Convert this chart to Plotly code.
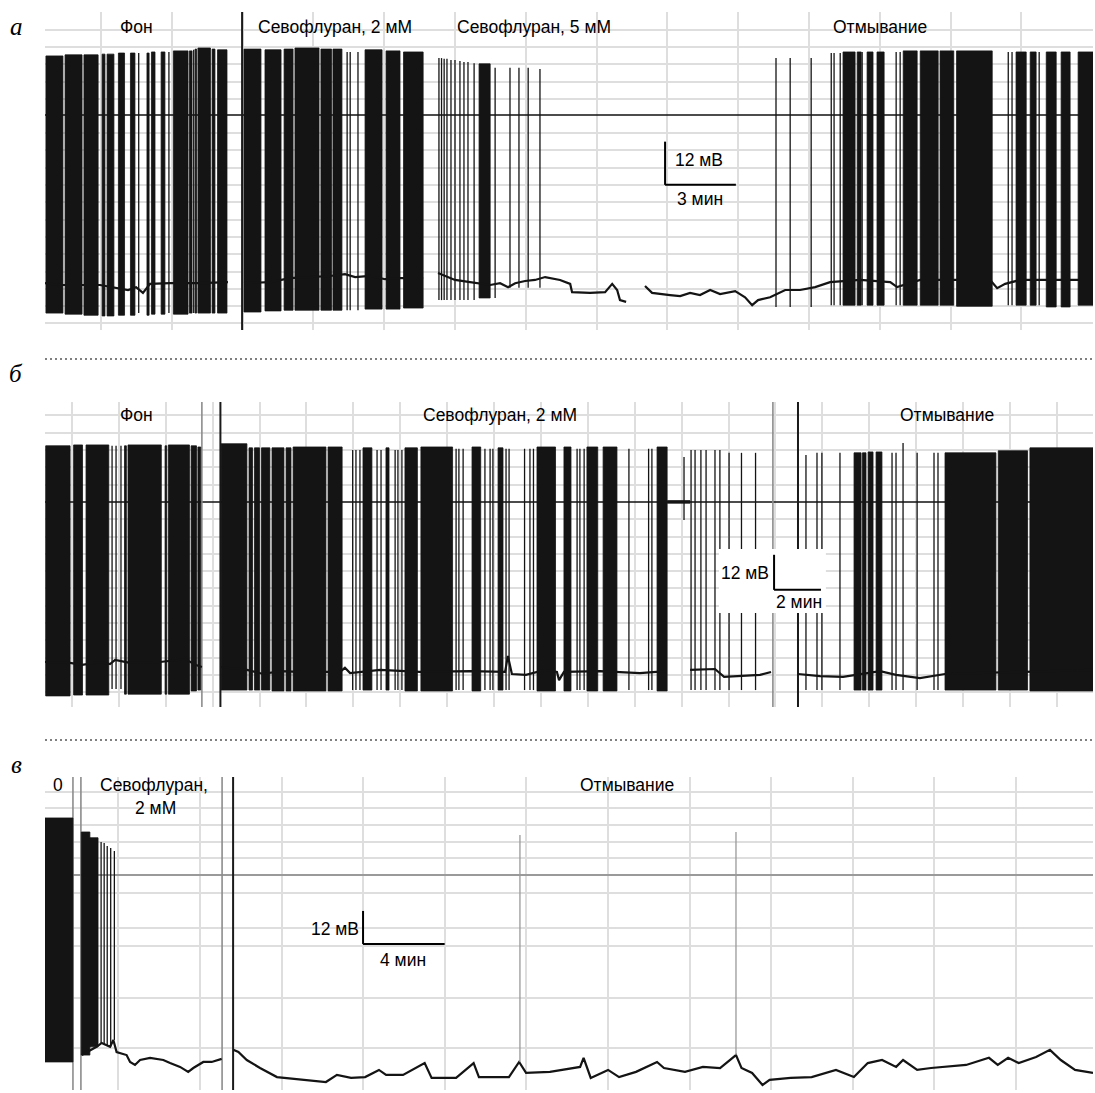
import plotly.graph_objects as go

W, H = 1095, 1093

# ------------------------------------------------------------------ panel а
a_burst_start = [0.04, 0.85, 1.65, 2.42, 2.63, 3.11, 3.62, 4.32, 4.51, 4.92, 5.44, 6.12, 6.36, 6.48, 7.08, 7.31,
                 8.43, 9.32, 10.13, 10.59, 11.69, 12.20, 13.56, 14.45, 15.19,
                 18.39,
                 33.81, 34.41, 34.83, 35.25, 36.36, 37.08, 37.92, 38.62, 41.14, 41.74, 42.42, 43.05, 43.77]
a_burst_end = [0.76, 1.57, 2.25, 2.54, 2.92, 3.37, 3.81, 4.41, 4.66, 5.08, 6.06, 6.23, 6.42, 7.01, 7.20, 7.71,
               9.15, 10.00, 10.51, 11.61, 12.14, 12.58, 14.28, 15.04, 16.02,
               18.86,
               34.32, 34.58, 35.08, 35.55, 36.95, 37.84, 38.50, 40.13, 41.57, 41.99, 42.84, 43.43, 44.40]
a_burst_top = [16.4, 16.7, 16.7, 16.9, 16.9, 17.2, 17.2, 17.2, 17.5, 17.5, 17.8, 17.8, 18.3, 18.6, 18.3, 18.1,
               18.3, 18.1, 18.3, 18.6, 18.3, 18.3, 18.1, 17.8, 17.5,
               14.2,
               17.5, 17.5, 17.5, 17.5, 17.8, 17.8, 17.8, 17.8, 17.5, 17.5, 17.5, 17.5, 17.5]
a_burst_bottom = [-55.0, -55.3, -55.6, -55.8, -55.8, -55.6, -55.6, -55.6, -55.3, -55.3, -55.3, -55.0, -55.0, -55.0, -55.0, -55.0,
                  -54.7, -54.4, -54.2, -54.2, -54.2, -54.2, -53.9, -53.9, -53.6,
                  -50.8,
                  -52.8, -52.8, -52.8, -52.8, -52.8, -52.8, -52.8, -53.1, -52.8, -52.8, -53.3, -53.3, -52.8]

a_spike_t = [3.97, 5.25, 6.30, 12.80, 12.93, 13.26,
             16.69, 16.80, 16.91, 17.03, 17.20, 17.37, 17.58, 17.75, 17.92, 18.18, 19.07, 19.70, 20.08, 20.47, 20.97,
             30.97, 31.57, 32.46, 33.31, 33.43, 33.69, 34.62, 36.06, 36.23, 40.81, 40.97, 42.12]
a_spike_top = [17.2, 17.5, 18.1, 17.5, 17.5, 17.5,
               15.8, 15.8, 15.6, 15.6, 15.3, 15.3, 15.0, 14.7, 14.7, 14.4, 13.1, 13.1, 13.1, 13.1, 12.8,
               15.8, 15.8, 15.8, 17.2, 17.2, 17.2, 17.5, 17.5, 17.5, 17.5, 17.5, 17.5]
a_spike_bottom = [-55.0, -55.0, -55.0, -54.2, -54.2, -54.2,
                  -51.4, -51.4, -51.4, -51.4, -51.4, -51.4, -51.4, -51.4, -51.4, -51.4, -50.8, -48.0, -48.0, -48.0, -48.0,
                  -53.3, -53.3, -53.3, -52.8, -52.8, -52.8, -52.8, -52.8, -52.8, -52.8, -52.8, -52.8]

a_base_t = [0.0, 0.64, 2.33, 3.52, 3.86, 4.15, 4.45, 5.30, 6.57, 7.75, None,
            8.43, 9.53, 10.38, 11.23, 12.08, 12.71, 13.14, 13.77, 14.41, 15.04, 16.02, None,
            16.65, 16.95, 17.37, 18.01, 18.86, 19.28, 19.62, 19.92, 20.34, 20.76, 21.19, 21.82, 22.25, 22.33,
            23.09, 23.73, 24.03, 24.24, 24.36, 24.62, None,
            25.42, 25.72, 26.48, 26.91, 27.33, 27.75, 28.18, 28.60, 29.24, 29.66, 29.96, 30.21, 30.72, 31.36,
            31.99, 32.63, 33.26, 34.53, 35.81, 36.10, 37.08, 40.04, 40.34, 40.68, 41.31, 44.40]
a_base_v = [-46.7, -47.2, -47.2, -48.6, -47.8, -49.4, -46.9, -46.7, -46.7, -46.4, None,
            -46.7, -46.4, -45.3, -45.0, -44.7, -44.2, -45.0, -44.7, -45.6, -45.3, -45.3, None,
            -43.9, -44.7, -45.8, -46.4, -47.2, -46.7, -47.8, -46.7, -46.1, -45.8, -45.0, -45.8, -46.9, -49.2,
            -49.4, -49.2, -46.9, -48.6, -51.4, -51.9, None,
            -47.5, -49.4, -50.0, -50.3, -49.4, -50.0, -48.6, -49.7, -48.9, -50.6, -52.8, -51.4, -50.6, -48.6,
            -48.6, -47.8, -46.4, -45.8, -46.4, -47.8, -45.8, -45.8, -48.1, -46.9, -45.8, -45.8]

a_marker_t = [8.35]
a_duration = 44.4

# ------------------------------------------------------------------ panel б
b_burst_start = [0.03, 1.22, 1.75, 3.39, 3.54, 5.12, 5.26, 6.23, 6.52,
                 7.51, 8.70, 8.93, 9.23, 9.68, 10.28, 10.58, 12.07, 13.56, 14.54, 15.35, 16.03, 18.21, 19.32,
                 20.98, 22.13, 23.11, 23.80, 26.10,
                 34.50, 34.86, 35.10, 35.44, 38.38, 40.65, 42.00]
b_burst_end = [1.07, 1.60, 2.72, 3.47, 4.96, 5.19, 6.16, 6.46, 6.64,
               8.61, 8.85, 9.15, 9.59, 10.19, 10.49, 11.98, 12.67, 13.94, 14.67, 15.88, 17.38, 18.58, 19.53,
               21.77, 22.43, 23.57, 24.39, 26.53,
               34.80, 35.01, 35.31, 35.69, 40.55, 41.90, 44.69]
b_burst_top = [19.2, 19.5, 19.5, 19.2, 19.5, 19.2, 19.5, 19.2, 18.8,
               19.9, 18.5, 18.5, 18.5, 18.5, 18.5, 18.8, 18.8, 18.5, 18.5, 18.5, 18.8, 18.8, 18.5,
               18.8, 18.8, 18.8, 18.8, 18.8,
               16.8, 16.8, 17.1, 17.1, 16.8, 17.5, 18.5]
b_burst_bottom = [-66.4, -66.1, -66.1, -65.8, -65.8, -65.8, -65.8, -64.7, -64.4,
                  -64.4, -64.4, -64.4, -64.4, -64.7, -64.7, -64.7, -64.7, -64.4, -64.4, -64.7, -64.7, -64.7, -64.4,
                  -64.7, -64.7, -64.7, -64.7, -64.7,
                  -64.4, -64.4, -64.4, -64.4, -64.4, -64.4, -64.7]

b_spike_t = [2.86, 3.03, 3.24,
             13.12, 13.26, 13.43, 14.16, 14.33, 14.93, 15.05, 15.22,
             17.53, 17.65, 17.83, 18.76, 18.98, 19.10, 19.66, 19.79, 20.45, 20.68, 20.83,
             22.69, 22.81, 22.99, 24.90, 25.74, 25.88,
             27.25, 27.55, 27.72, 27.97, 28.19, 28.57, 28.78, 29.17, 29.70, 30.30,
             32.45, 32.92, 33.13, 33.90, 36.12, 36.29, 36.59, 37.19, 37.91, 38.08]
b_spike_top = [19.2, 19.2, 19.2,
               17.8, 17.8, 17.8, 17.8, 17.8, 17.8, 17.8, 17.8,
               18.2, 18.2, 18.2, 18.2, 18.2, 18.2, 18.2, 18.2, 18.2, 18.2, 18.2,
               18.2, 18.2, 18.2, 18.2, 18.2, 18.2,
               15.4, 17.8, 17.8, 17.8, 17.8, 17.8, 17.8, 16.8, 16.8, 16.8,
               16.1, 16.8, 16.8, 16.8, 16.8, 16.8, 20.2, 16.8, 16.8, 16.8]
b_spike_bottom = [-64.0, -64.0, -64.0,
                  -64.4, -64.4, -64.4, -64.4, -64.4, -64.4, -64.4, -64.4,
                  -64.4, -64.4, -64.4, -64.4, -64.4, -64.4, -64.4, -64.4, -64.4, -64.4, -64.4,
                  -64.4, -64.4, -64.4, -64.4, -64.4, -64.4,
                  -6.2, -64.4, -64.4, -64.4, -64.4, -64.4, -64.4, -64.4, -64.4, -64.4,
                  -64.4, -64.4, -64.4, -64.4, -64.4, -64.4, -64.4, -64.4, -64.4, -64.4]

b_base_t = [0.0, 1.07, 1.58, 2.35, 2.77, 2.99, 3.62, 4.90, 5.97, 6.44, 6.69, None,
            7.51, 8.61, 9.30, 10.02, 10.87, 12.58, 12.79, 13.01, 14.29, 15.99, 18.12, 19.62, 19.74, 19.91,
            20.51, 21.32, 21.83, 21.92, 22.13, 23.67, 25.37, 26.48, None,
            27.51, 28.57, 28.96, 29.64, 30.49, 30.96, None,
            32.11, 33.05, 34.03, 34.75, 35.61, 36.29, 37.31, 38.38, 44.69]
b_base_v = [-54.8, -55.1, -55.8, -54.8, -55.5, -54.1, -55.1, -54.8, -53.8, -55.8, -56.5, None,
            -56.5, -57.5, -58.9, -57.9, -58.2, -58.2, -56.8, -58.6, -57.5, -58.2, -57.9, -58.2, -52.7, -58.9,
            -59.2, -57.5, -58.2, -61.0, -58.2, -57.9, -58.6, -57.9, None,
            -57.5, -57.2, -59.9, -59.6, -59.2, -58.2, None,
            -58.9, -59.6, -59.9, -58.9, -57.9, -59.2, -60.3, -58.9, -57.5]

b_hold_t = [26.53, 27.51]
b_hold_v = [0.0, 0.0]
b_marker_t = [6.69, 7.48, 31.04, 32.11]
b_marker_dark = [False, True, False, True]
b_duration = 44.69

# ------------------------------------------------------------------ panel в
c_burst_start = [0.0, 1.78, 2.20]
c_burst_end = [1.37, 2.20, 2.60]
c_burst_top = [20.7, 15.6, 13.5]
c_burst_bottom = [-68.0, -65.5, -62.5]

c_spike_t = [2.75, 2.90, 3.05, 3.22, 3.40]
c_spike_top = [12.0, 11.6, 10.5, 9.8, 8.7]
c_spike_bottom = [-61.1, -61.5, -62.0, -62.5, -60.0]

c_faint_t = [23.28, 33.87]
c_faint_top = [14.5, 15.6]
c_faint_bottom = [-68.0, -65.5]

c_base_t = [1.80, 2.53, 2.78, 3.19, 3.35, 3.51, 4.00, 4.17, 4.41, 4.66, 5.15, 5.80, 6.13, 6.62, 7.02, 7.27,
            7.76, 8.17, 8.66, None,
            9.23, 9.48, 9.89, 10.54, 11.37, 12.75, 13.77, 14.31, 15.00, 15.69, 16.37, 16.72, 17.55, 18.61,
            18.95, 20.15, 21.01, 21.27, 22.74, 23.24, 23.58, 24.75, 26.23, 26.40, 26.75, 27.60, 28.14, 28.97,
            30.00, 30.34, 31.37, 32.25, 33.09, 33.87, 34.14, 34.66, 35.17, 35.52, 36.55, 37.58, 38.77, 39.65,
            40.33, 41.03, 41.72, 42.06, 42.75, 43.43, 45.15, 46.27, 46.70, 47.21, 47.73, 48.58, 49.26, 49.79,
            50.49, 51.37]
c_base_v = [-65.5, -62.5, -61.1, -62.5, -60.0, -64.4, -65.5, -68.0, -69.1, -67.3, -66.5, -67.3, -68.4, -69.8,
            -71.6, -70.2, -68.0, -68.0, -66.9, None,
            -63.6, -64.4, -67.3, -70.2, -73.5, -74.5, -75.3, -72.7, -73.8, -73.5, -70.9, -72.7, -72.7, -68.4,
            -73.8, -73.8, -68.4, -73.5, -73.5, -68.0, -72.0, -71.6, -69.8, -66.5, -73.8, -70.9, -73.5, -71.6,
            -68.0, -70.2, -71.6, -69.8, -70.2, -65.5, -70.2, -72.0, -76.4, -74.5, -73.8, -73.5, -70.9, -73.5,
            -68.4, -67.3, -69.8, -67.3, -70.9, -70.2, -69.1, -66.5, -69.1, -66.5, -68.4, -66.2, -63.6, -67.3,
            -70.9, -72.0]

c_marker_t = [1.37, 1.76, 8.68, 9.22]
c_marker_dark = [False, False, False, True]
c_duration = 51.37

# scale bars: (mV, min)
scale_mv = [12, 12, 12]
scale_min = [3, 2, 4]

# ------------------------------------------------------------------ helpers
def dom_x(p0, p1):
    return [p0 / W, p1 / W]


def dom_y(p0, p1):
    return [1 - p1 / H, 1 - p0 / H]


def rect_path(starts, ends, tops, bottoms):
    xs, ys = [], []
    for s, e, t, b in zip(starts, ends, tops, bottoms):
        xs += [s, e, e, s, s, None]
        ys += [b, b, t, t, b, None]
    return xs, ys


def seg_path(ts, tops, bottoms):
    xs, ys = [], []
    for t, top, bot in zip(ts, tops, bottoms):
        xs += [t, t, None]
        ys += [bot, top, None]
    return xs, ys


fig = go.Figure()

panels = [
    dict(xa="x", ya="y", bursts=(a_burst_start, a_burst_end, a_burst_top, a_burst_bottom),
         spikes=(a_spike_t, a_spike_top, a_spike_bottom), base=(a_base_t, a_base_v),
         markers=a_marker_t, dark=[True], dur=a_duration, zero_col="#111111"),
    dict(xa="x2", ya="y2", bursts=(b_burst_start, b_burst_end, b_burst_top, b_burst_bottom),
         spikes=(b_spike_t, b_spike_top, b_spike_bottom), base=(b_base_t, b_base_v),
         markers=b_marker_t, dark=b_marker_dark, dur=b_duration, zero_col="#111111"),
    dict(xa="x3", ya="y3", bursts=(c_burst_start, c_burst_end, c_burst_top, c_burst_bottom),
         spikes=(c_spike_t, c_spike_top, c_spike_bottom), base=(c_base_t, c_base_v),
         markers=c_marker_t, dark=c_marker_dark, dur=c_duration, zero_col="#9a9a9a"),
]

yranges = [[-59.7, 28.6], [-70.2, 34.2], [-78.2, 35.6]]

for i, p in enumerate(panels):
    xa, ya = p["xa"], p["ya"]
    fig.add_trace(go.Scatter(x=[0, p["dur"]], y=[0, 0], mode="lines", xaxis=xa, yaxis=ya,
                             line=dict(color=p["zero_col"], width=1.5 if i < 2 else 2), hoverinfo="skip"))
    for t, dk in zip(p["markers"], p["dark"]):
        fig.add_trace(go.Scatter(x=[t, t], y=yranges[i], mode="lines", xaxis=xa, yaxis=ya,
                                 line=dict(color="#1a1a1a" if dk else "#8c8c8c", width=2 if dk else 1.6),
                                 hoverinfo="skip"))
    bx, by = rect_path(*p["bursts"])
    fig.add_trace(go.Scatter(x=bx, y=by, mode="lines", fill="toself", fillcolor="#141414",
                             line=dict(color="#141414", width=0.8), xaxis=xa, yaxis=ya, hoverinfo="skip"))
    sx, sy = seg_path(*p["spikes"])
    fig.add_trace(go.Scatter(x=sx, y=sy, mode="lines", line=dict(color="#141414", width=1.3),
                             xaxis=xa, yaxis=ya, hoverinfo="skip"))
    fig.add_trace(go.Scatter(x=p["base"][0], y=p["base"][1], mode="lines",
                             line=dict(color="#141414", width=2.2), xaxis=xa, yaxis=ya,
                             connectgaps=False, hoverinfo="skip"))

fig.add_trace(go.Scatter(x=b_hold_t, y=b_hold_v, mode="lines", line=dict(color="#141414", width=3.5),
                         xaxis="x2", yaxis="y2", hoverinfo="skip"))
fx, fy = seg_path(c_faint_t, c_faint_top, c_faint_bottom)
fig.add_trace(go.Scatter(x=fx, y=fy, mode="lines", line=dict(color="#9a9a9a", width=1.3),
                         xaxis="x3", yaxis="y3", hoverinfo="skip"))

# ------------------------------------------------------------------ axes / grid
grid = "#dedede"
axis_common = dict(showticklabels=False, ticks="", zeroline=False, showline=False,
                   gridcolor=grid, gridwidth=1.8, fixedrange=True)

a_xgrid = [2.37 + 3 * k for k in range(15)]
a_ygrid = [23.6, 18.9, 14.2, 9.2, 4.4, -5.0, -9.7, -14.7, -19.4, -24.2, -29.2, -33.9, -38.6, -43.6,
           -48.3, -53.1, -57.8]
b_xgrid = [1.15 + 2 * k for k in range(22)]
b_ygrid = [5.92 * k for k in range(-11, 6) if k != 0]
c_xgrid = [3.6 + 4 * k for k in range(12)]
c_ygrid = [30.2, 24.4, 18.2, 12.0, 6.2, -6.5, -19.3, -25.8, -44.7, -62.9]

fig.update_layout(
    xaxis=dict(domain=dom_x(45, 1093), range=[0, a_duration], tickvals=a_xgrid, anchor="y", **axis_common),
    yaxis=dict(domain=dom_y(12, 330), range=yranges[0], tickvals=a_ygrid, anchor="x", **axis_common),
    xaxis2=dict(domain=dom_x(45, 1093), range=[0, b_duration], tickvals=b_xgrid, anchor="y2", **axis_common),
    yaxis2=dict(domain=dom_y(402, 707), range=yranges[1], tickvals=b_ygrid, anchor="x2", **axis_common),
    xaxis3=dict(domain=dom_x(45, 1093), range=[0, c_duration], tickvals=c_xgrid, anchor="y3", **axis_common),
    yaxis3=dict(domain=dom_y(777, 1090), range=yranges[2], tickvals=c_ygrid, anchor="x3", **axis_common),
)

# ------------------------------------------------------------------ scale bars
shapes = []
shapes.append(dict(type="rect", xref="x2", yref="y2", x0=28.74, x1=33.30, y0=-38.0, y1=-16.1,
                   fillcolor="white", line=dict(width=0), layer="above"))
scale_origin = [("x", "y", 26.27, -19.4), ("x2", "y2", 31.09, -30.1), ("x3", "y3", 15.59, -25.1)]
for (xr, yr, t0, v0), mv, mn in zip(scale_origin, scale_mv, scale_min):
    shapes.append(dict(type="line", xref=xr, yref=yr, x0=t0, x1=t0, y0=v0, y1=v0 + mv,
                       line=dict(color="black", width=2), layer="above"))
    shapes.append(dict(type="line", xref=xr, yref=yr, x0=t0, x1=t0 + mn, y0=v0, y1=v0,
                       line=dict(color="black", width=2), layer="above"))

for ysep in [359, 740]:
    shapes.append(dict(type="line", xref="paper", yref="paper", x0=45 / W, x1=1095 / W,
                       y0=1 - ysep / H, y1=1 - ysep / H,
                       line=dict(color="#555555", width=1.5, dash="2px,3px")))

# ------------------------------------------------------------------ texts
label_font = dict(family="Liberation Sans, Arial, sans-serif", size=17.5, color="black")
letter_font = dict(family="Liberation Serif, Times New Roman, serif", size=25, color="black")

texts = [
    ("Фон", 136, 27), ("Севофлуран, 2 мМ", 335, 27), ("Севофлуран, 5 мМ", 534, 27), ("Отмывание", 880, 27),
    ("12 мВ", 699, 160), ("3 мин", 700, 199),
    ("Фон", 136, 415), ("Севофлуран, 2 мМ", 500, 415), ("Отмывание", 947, 415),
    ("12 мВ", 745, 573), ("2 мин", 799, 602),
    ("0", 58, 785), ("Севофлуран,", 154, 785), ("2 мМ", 155, 808), ("Отмывание", 627, 785),
    ("12 мВ", 335, 929), ("4 мин", 403, 960),
]
annotations = []
for txt, x, y in texts:
    annotations.append(dict(text=txt, x=x / W, y=1 - y / H, xref="paper", yref="paper",
                            showarrow=False, font=label_font, xanchor="center", yanchor="middle"))
for txt, x, y in [("а", 16, 27), ("б", 16, 374), ("в", 16, 764)]:
    annotations.append(dict(text="<i>" + txt + "</i>", x=x / W, y=1 - y / H, xref="paper", yref="paper",
                            showarrow=False, font=letter_font, xanchor="center", yanchor="middle"))

fig.update_layout(
    width=W, height=H, margin=dict(l=0, r=0, t=0, b=0),
    paper_bgcolor="white", plot_bgcolor="white", showlegend=False,
    shapes=shapes, annotations=annotations,
)

fig.write_html("out.html", config={"displayModeBar": False},
               post_script="document.body.style.margin='0';document.body.style.overflow='hidden';")
